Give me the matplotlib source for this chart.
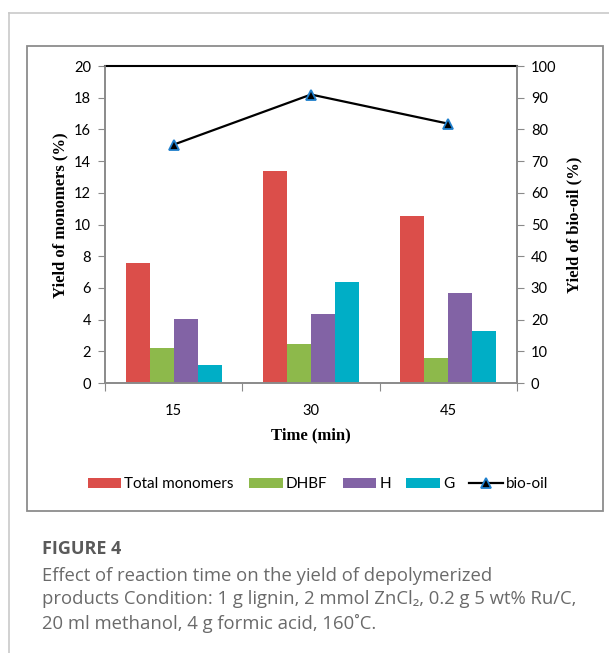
import numpy as np
import matplotlib
matplotlib.use("Agg")
import matplotlib.pyplot as plt
from matplotlib.patches import Rectangle
from matplotlib.lines import Line2D

plt.rcParams['font.family'] = ['Lato', 'DejaVu Sans']

# data
times = ["15", "30", "45"]
total_monomers = [7.55, 13.4, 10.55]
dhbf = [2.2, 2.45, 1.55]
h_vals = [4.05, 4.35, 5.65]
g_vals = [1.15, 6.35, 3.3]
bio_oil = [75.2, 91.0, 81.8]

series_names = ["Total monomers", "DHBF", "H", "G"]
colors = ["#DB4E4A", "#8DB94B", "#8263A5", "#00AEC6"]
axis_gray = "#8a8a8a"

fig = plt.figure(figsize=(6.09, 6.53), dpi=100)

# card border (left + top) and chart frame
fig.add_artist(Line2D([9/609, 9/609], [0, 1 - 13/653], color="#c9c9c9", lw=1.2))
fig.add_artist(Line2D([9/609, 1], [1 - 13/653, 1 - 13/653], color="#c9c9c9", lw=1.2))
fig.add_artist(Rectangle((27/609, 1 - 511/653), 576/609, 465/653, fill=False,
                         edgecolor="#8c8c8c", lw=1.3))

ax = fig.add_axes([105/609, 1 - 383/653, 412/609, 317/653])
x = np.arange(len(times))
w = 0.175
allvals = [total_monomers, dhbf, h_vals, g_vals]
bars = []
for i, (vals, c) in enumerate(zip(allvals, colors)):
    b = ax.bar(x + (i - 1.5) * w, vals, w, color=c, edgecolor="none", zorder=2)
    bars.append(b)

ax.set_xlim(-0.5, 2.5)
ax.set_ylim(0, 20)
ax.set_yticks(np.arange(0, 21, 2))
ax.set_xticks([-0.5, 0.5, 1.5, 2.5])
ax.set_xticklabels([])
ax.set_xticks(x, minor=True)
ax.set_xticklabels(times, minor=True)
ax.tick_params(axis="x", which="major", length=6, color=axis_gray, direction="out")
ax.tick_params(axis="x", which="minor", length=0, pad=15, labelsize=10.5)
ax.tick_params(axis="y", length=5, color=axis_gray, pad=5, labelsize=10.5)
for s in ["left", "bottom", "right"]:
    ax.spines[s].set_color(axis_gray)
    ax.spines[s].set_linewidth(1.2)
ax.spines["top"].set_color("black")
ax.spines["top"].set_linewidth(1.5)

ax.set_ylabel("Yield of monomers (%)", family="Liberation Serif", weight="bold", fontsize=12)
ax.yaxis.set_label_coords(-0.09, 0.53)
ax.set_xlabel("Time (min)", family="Liberation Serif", weight="bold", fontsize=12)
ax.xaxis.set_label_coords(0.5, -0.14)

ax2 = ax.twinx()
ax2.set_ylim(0, 100)
ax2.set_yticks(np.arange(0, 101, 10))
ax2.tick_params(axis="y", length=5, color=axis_gray, pad=5, labelsize=10.5)
for s in ["left", "bottom", "right"]:
    ax2.spines[s].set_color(axis_gray)
    ax2.spines[s].set_linewidth(1.2)
ax2.spines["top"].set_visible(False)
line, = ax2.plot(x, bio_oil, color="black", lw=1.6, marker="^", markersize=7,
                 markerfacecolor="black", markeredgecolor="#1F7FCC", markeredgewidth=1.3,
                 zorder=3)
ax2.set_ylabel("Yield of bio-oil (%)", family="Liberation Serif", weight="bold", fontsize=12)
ax2.yaxis.set_label_coords(1.12, 0.5)

handles = bars + [line]
labels = series_names + ["bio-oil"]
fig.legend(handles, labels, loc="center", bbox_to_anchor=(318/609, 1 - 484/653), ncol=5,
           frameon=False, fontsize=11, handlelength=2.2, handleheight=0.65,
           handletextpad=0.2, columnspacing=1.0)

# caption
fig.text(42/609, 1 - 549/653, "FIGURE 4", fontsize=13, weight="bold", color="#5a5a5a",
         va="center", ha="left", family=["Open Sans", "DejaVu Sans"])
cap_lines = ["Effect of reaction time on the yield of depolymerized",
             "products Condition: 1 g lignin, 2 mmol ZnCl\u2082, 0.2 g 5 wt% Ru/C,",
             "20 ml methanol, 4 g formic acid, 160\u02daC."]
for k, txt in enumerate(cap_lines):
    fig.text(42/609, 1 - (576 + 23.5 * k)/653, txt, fontsize=13.3, color="#6a6a6a",
             va="center", ha="left", family=["Open Sans", "DejaVu Sans"])

fig.savefig("out.png", dpi=100)
